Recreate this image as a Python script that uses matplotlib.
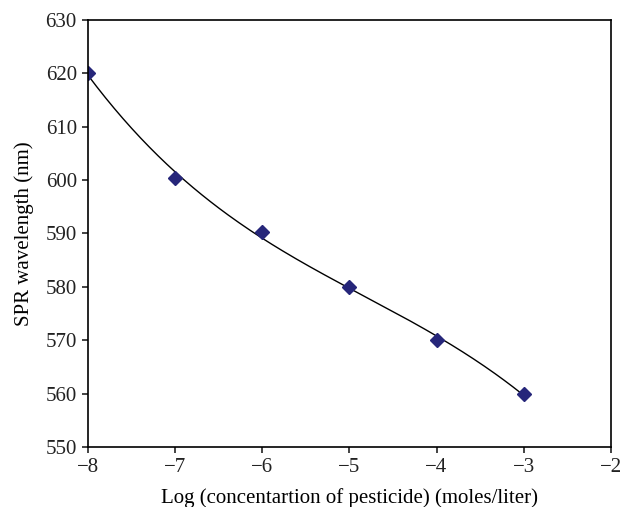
import numpy as np
from matplotlib import pyplot as plt

log_conc = [-8, -7, -6, -5, -4, -3]
spr_nm = [620.0, 600.3, 590.2, 580.0, 570.0, 560.0]
x_ticks = [-8, -7, -6, -5, -4, -3, -2]
y_ticks = [550, 560, 570, 580, 590, 600, 610, 620, 630]

plt.rcParams['font.family'] = ['Liberation Serif', 'DejaVu Serif']
plt.rcParams['axes.unicode_minus'] = True

fig = plt.figure(figsize=(6.24, 5.07), dpi=100)
ax = fig.add_axes([0.141, 0.118, 0.838, 0.843])

# trend line (cubic fit of the points)
coef = np.polyfit(log_conc, spr_nm, 3)
xs = np.linspace(log_conc[0], log_conc[-1], 200)
ax.plot(xs, np.polyval(coef, xs), color="black", lw=1.0)
ax.plot(log_conc, spr_nm, linestyle="none", marker="D", markersize=7,
        color="#26267a", markeredgecolor="#26267a")

ax.set_xlim(-8, -2)
ax.set_ylim(550, 630)
ax.set_xticks(x_ticks)
ax.set_yticks(y_ticks)
ax.tick_params(direction="out", length=4, width=1.2, labelsize=15,
               colors="#222222", pad=4)
for s in ax.spines.values():
    s.set_linewidth(1.2)
ax.set_xlabel("Log (concentartion of pesticide) (moles/liter)", fontsize=15, labelpad=8)
ax.set_ylabel("SPR wavelength (nm)", fontsize=15, labelpad=8)

fig.savefig("out.png", dpi=100)
